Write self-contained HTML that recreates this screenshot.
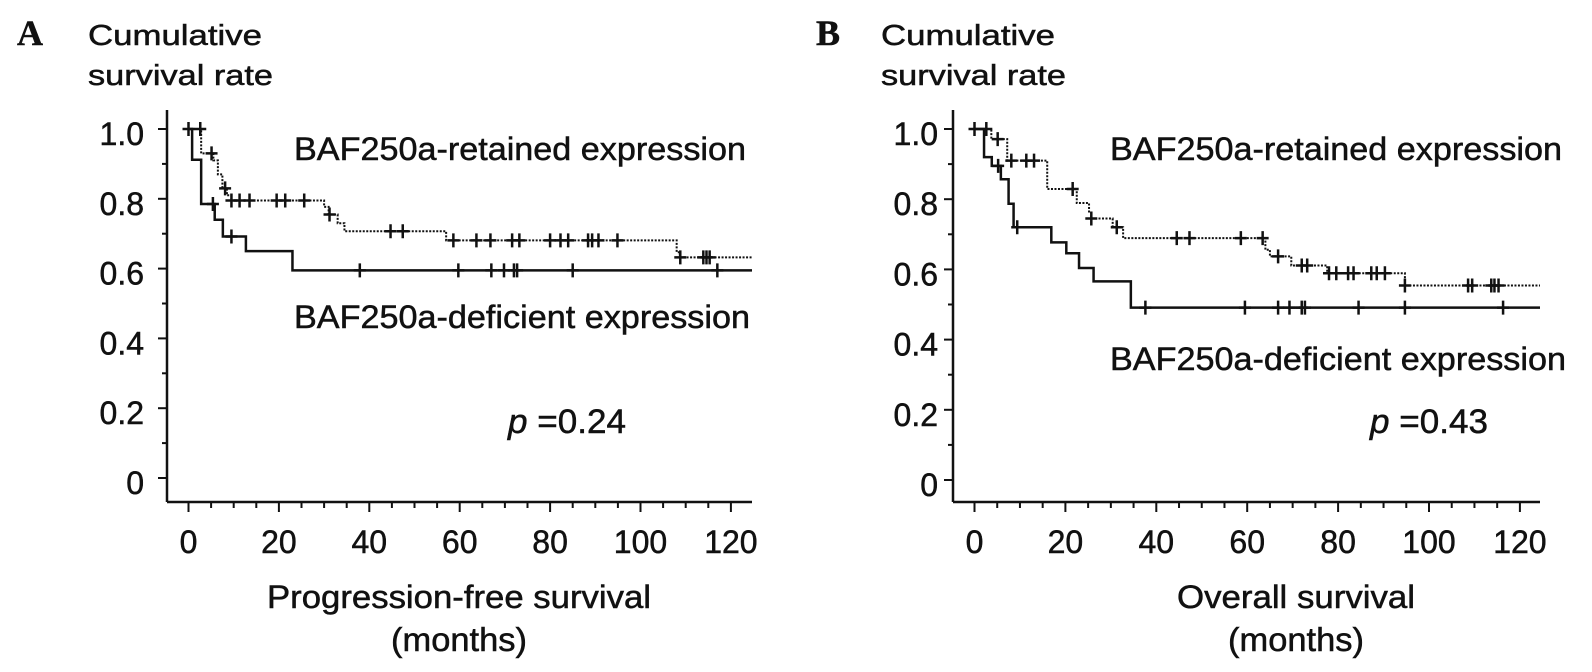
<!DOCTYPE html>
<html><head><meta charset="utf-8"><style>
html,body{margin:0;padding:0;background:#fff}
svg{display:block}
text{font-family:"Liberation Sans",Arial,sans-serif;fill:#111;stroke:#111;stroke-width:0.5}
</style></head><body>
<svg id="chart" width="1592" height="672" viewBox="0 0 1592 672" xmlns="http://www.w3.org/2000/svg"></svg>
<script>
// Panel A: progression-free survival
const aRetTimes = [0, 2.8, 5.5, 6.5, 7.5, 8.5, 9.5, 30, 31, 33, 34.5, 57, 108, 108.7];
const aRetVals  = [1.0, 0.93, 0.91, 0.87, 0.83, 0.81, 0.795, 0.777, 0.755, 0.73, 0.707, 0.681, 0.647, 0.632];
const aRetCens  = [0, 2.6, 5.1, 8.1, 9.5, 11.3, 13.5, 19.5, 21.4, 25.6, 31.2, 44.7, 47.4, 58.6, 63.7, 66.8, 71.6, 73.2, 80, 82.3, 84, 88.4, 89.3, 90.7, 94.9, 108.8, 113.9, 114.6, 115.3];
const aDefTimes = [0, 0.8, 2.8, 5.8, 7.6, 12.7, 23];
const aDefVals  = [1.0, 0.912, 0.785, 0.74, 0.692, 0.65, 0.595];
const aDefCens  = [5.4, 9.5, 37.9, 59.7, 67, 69.8, 72, 72.7, 85, 117];
// Panel B: overall survival
const bRetTimes = [0, 3.7, 7.2, 16, 22.5, 25.2, 25.7, 30.4, 32.7, 64, 65, 69.7, 77.6, 94.7];
const bRetVals  = [1.0, 0.971, 0.91, 0.829, 0.789, 0.765, 0.745, 0.72, 0.689, 0.656, 0.637, 0.611, 0.589, 0.554];
const bRetCens  = [0, 2.6, 5.1, 8.1, 11.4, 13.1, 21.6, 25.7, 31.3, 44.5, 47.3, 58.6, 63.4, 66.8, 72, 73.2, 78, 79.6, 82.2, 83.4, 87.3, 88.5, 90.3, 94.7, 108.6, 109.5, 113.7, 114.4, 115.3];
const bDefTimes = [0, 2.1, 3.8, 5.8, 7.5, 8.6, 16.9, 20.2, 23, 26.2, 34.4];
const bDefVals  = [1.0, 0.92, 0.895, 0.857, 0.787, 0.72, 0.677, 0.646, 0.604, 0.566, 0.491];
const bDefCens  = [5.2, 9.4, 37.6, 59.5, 66.8, 69.3, 72, 72.7, 84.5, 94.7, 116.3];
const xTickLabels = ["0","20","40","60","80","100","120"];
const yTickLabels = ["0","0.2","0.4","0.6","0.8","1.0"];

const svg = document.getElementById('chart');
const NS = 'http://www.w3.org/2000/svg';
function mk(tag, attrs, parent){
  const e = document.createElementNS(NS, tag);
  for (const k in attrs) e.setAttribute(k, attrs[k]);
  (parent||svg).appendChild(e);
  return e;
}
function stepAt(times, vals, t){
  let v = vals[0];
  for (let i=0;i<times.length;i++){ if (times[i] <= t) v = vals[i]; }
  return v;
}
function panel(p){
  const g = mk('g', {});
  
  
  const X = t => p.x0 + t * p.xs;
  const Y = v => p.y0 - v * p.ys;
  const L = mk('text', {x:p.lx, y:45, 'font-size':36, 'font-weight':'bold', style:'font-family:"Liberation Serif",serif'}, g);
  L.textContent = p.letter;
  
  
  const yt1 = mk('text', {x:p.tx, y:45, 'font-size':29, textLength:174, lengthAdjust:'spacingAndGlyphs'}, g); yt1.textContent = 'Cumulative';
  
  
  const yt2 = mk('text', {x:p.tx, y:85, 'font-size':29, textLength:185, lengthAdjust:'spacingAndGlyphs'}, g); yt2.textContent = 'survival rate';
  
  
  const ya = mk('line', {x1:p.ax, y1:110, x2:p.ax, y2:502, stroke:'#111', 'stroke-width':2.5}, g);
  
  
  const xa = mk('line', {x1:p.ax, y1:502, x2:p.xend, y2:502, stroke:'#111', 'stroke-width':2.5}, g);
  
  
  for (let i=0;i<=10;i++){
    const v = i/10, major = i%2===0;
    mk('line', {x1:p.ax-(major?9:5), y1:Y(v), x2:p.ax, y2:Y(v), stroke:'#111','stroke-width':2}, g);
  }
  yTickLabels.forEach((s,i)=>{
    const t = mk('text', {x:p.ax-p.lgap, y:Y(i*0.2)+16, 'font-size':32, 'text-anchor':'end'}, g);
    t.textContent = s;
    
    
  });
  for (let m=0;m<=120;m+=5){
    const major = m%20===0;
    mk('line', {x1:X(m), y1:502, x2:X(m), y2:502+(major?10:6), stroke:'#111','stroke-width':2}, g);
  }
  xTickLabels.forEach((s,i)=>{
    const t = mk('text', {x:X(i*20), y:553, 'font-size':32, 'text-anchor':'middle'}, g);
    t.textContent = s;
    
    
  });
  const xt = mk('text', {x:p.xtc-p.xtw/2, y:608, 'font-size':32, textLength:p.xtw, lengthAdjust:'spacingAndGlyphs'}, g);
  xt.textContent = p.xtitle;
  
  
  const xt2 = mk('text', {x:p.xtc-68, y:651, 'font-size':33, textLength:136, lengthAdjust:'spacingAndGlyphs'}, g);
  xt2.textContent = '(months)';
  
  
  const tEnd = (p.xend - p.x0)/p.xs;
  function curve(times, vals, cens, dashed, name){
    let d = 'M'+X(times[0])+','+Y(vals[0]);
    for (let i=1;i<times.length;i++){
      d += ' H'+X(times[i])+' V'+Y(vals[i]);
    }
    d += ' H'+X(tEnd);
    const path = mk('path', {d:d, fill:'none', stroke:'#111', 'stroke-width':dashed?2:2.5, 'stroke-dasharray':dashed?'2,1.5':'none'}, g);
    
    
    cens.forEach(t=>{
      const cx = X(t), cy = Y(stepAt(times, vals, t));
      const c = mk('path', {d:'M'+(cx-6)+','+cy+' H'+(cx+6)+' M'+cx+','+(cy-7)+' V'+(cy+7), stroke:'#111','stroke-width':2.5, fill:'none'}, g);
      
      
    });
  }
  curve(p.rt, p.rv, p.rc, true, 'retained-curve');
  curve(p.dt, p.dv, p.dc, false, 'deficient-curve');
  const l1 = mk('text', {x:p.legx, y:160, 'font-size':32, textLength:452, lengthAdjust:'spacingAndGlyphs'}, g);
  l1.textContent = 'BAF250a-retained expression';
  
  
  const l2 = mk('text', {x:p.legx, y:p.defy, 'font-size':32, textLength:456, lengthAdjust:'spacingAndGlyphs'}, g);
  l2.textContent = 'BAF250a-deficient expression';
  
  
  const pv = mk('text', {x:p.px, y:433, 'font-size':34, textLength:118, lengthAdjust:'spacingAndGlyphs'}, g);
  pv.innerHTML = '<tspan font-style="italic">p</tspan> =' + p.pval;
  
  
}
panel({name:'panel-a-pfs', letter:'A', lx:17, tx:88, ax:167, lgap:23, x0:188.5, xs:4.52, xend:752, y0:478, ys:349,
  xtitle:'Progression-free survival', xtc:459, xtw:384, legx:294, defy:328, px:508, pval:'0.24',
  rt:aRetTimes, rv:aRetVals, rc:aRetCens, dt:aDefTimes, dv:aDefVals, dc:aDefCens});
panel({name:'panel-b-os', letter:'B', lx:816, tx:881, ax:953, lgap:15, x0:974.5, xs:4.545, xend:1540, y0:480, ys:351,
  xtitle:'Overall survival', xtc:1296, xtw:238, legx:1110, defy:370, px:1370, pval:'0.43',
  rt:bRetTimes, rv:bRetVals, rc:bRetCens, dt:bDefTimes, dv:bDefVals, dc:bDefCens});
</script>
</body></html>
